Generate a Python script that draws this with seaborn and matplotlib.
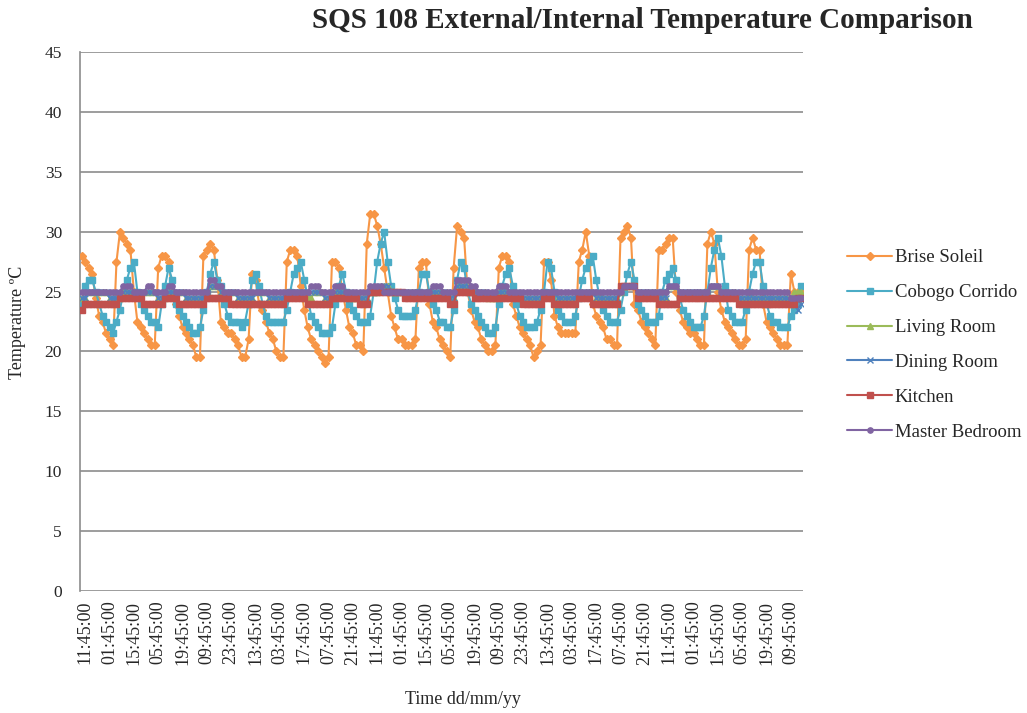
import numpy as np
import pandas as pd
import matplotlib
matplotlib.use("Agg")
import matplotlib.pyplot as plt
import seaborn as sns

# Logged readings, one every 2 hours; the first reading is at 09:45:00
tick_labels = [
    "11:45:00", "01:45:00", "15:45:00", "05:45:00", "19:45:00", "09:45:00",
    "23:45:00", "13:45:00", "03:45:00", "17:45:00", "07:45:00", "21:45:00",
    "11:45:00", "01:45:00", "15:45:00", "05:45:00", "19:45:00", "09:45:00",
    "23:45:00", "13:45:00", "03:45:00", "17:45:00", "07:45:00", "21:45:00",
    "11:45:00", "01:45:00", "15:45:00", "05:45:00", "19:45:00", "09:45:00",
]

brise_soleil = [
    28, 27.5, 27, 26.5, 24.5, 23, 22.5, 21.5, 21, 20.5,
    27.5, 30, 29.5, 29, 28.5, 25, 22.5, 22, 21.5, 21, 20.5, 20.5,
    27, 28, 28, 27.5, 25, 24, 23, 22, 21.5, 21, 20.5, 19.5, 19.5,
    28, 28.5, 29, 28.5, 26, 22.5, 22, 21.5, 21.5, 21, 20.5, 19.5, 19.5, 21,
    26.5, 26, 24, 23.5, 22.5, 21.5, 21, 20, 19.5, 19.5,
    27.5, 28.5, 28.5, 28, 25.5, 23.5, 22, 21, 20.5, 20, 19.5, 19, 19.5,
    27.5, 27.5, 27, 25, 23.5, 22, 21.5, 20.5, 20.5, 20,
    29, 31.5, 31.5, 30.5, 29, 27, 25, 23, 22, 21, 21, 20.5, 20.5, 20.5, 21,
    27, 27.5, 27.5, 24, 22.5, 22, 21, 20.5, 20, 19.5,
    27, 30.5, 30, 29.5, 25, 23.5, 22.5, 22, 21, 20.5, 20, 20, 20.5,
    27, 28, 28, 27.5, 24, 23, 22, 21.5, 21, 20.5, 19.5, 20, 20.5,
    27.5, 27.5, 26, 23, 22, 21.5, 21.5, 21.5, 21.5, 21.5,
    27.5, 28.5, 30, 28, 24, 23, 22.5, 22, 21, 21, 20.5, 20.5,
    29.5, 30, 30.5, 29.5, 24, 23.5, 22.5, 22, 21.5, 21, 20.5,
    28.5, 28.5, 29, 29.5, 29.5, 25, 23.5, 22.5, 22, 21.5, 21.5, 21, 20.5, 20.5,
    29, 30, 29, 25, 23.5, 22.5, 22, 21.5, 21, 20.5, 20.5, 21,
    28.5, 29.5, 28.5, 28.5, 24, 22.5, 22, 21.5, 21, 20.5, 20.5, 20.5, 26.5, 25, 25, 25,
]

cobogo_corrido = [
    24, 25.5, 26, 26, 25, 24, 23, 22.5, 22, 21.5,
    22.5, 23.5, 25, 26, 27, 27.5, 25, 24, 23.5, 23, 22.5, 22.5, 22,
    24, 25.5, 27, 26, 24, 23.5, 23, 22.5, 22, 21.5, 21.5, 22,
    23.5, 25, 26.5, 27.5, 26, 25.5, 24, 23, 22.5, 22.5, 22.5, 22, 22.5,
    24, 26, 26.5, 25.5, 24, 23, 22.5, 22.5, 22.5, 22.5, 22.5,
    23.5, 25, 26.5, 27, 27.5, 26, 24.5, 23, 22.5, 22, 21.5, 21.5, 21.5, 22,
    24, 25.5, 26.5, 25, 24, 23.5, 23, 22.5, 22.5, 22.5,
    23, 25, 27.5, 29, 30, 27.5, 25.5, 24.5, 23.5, 23, 23, 23, 23, 23.5,
    25, 26.5, 26.5, 25, 24, 23.5, 22.5, 22.5, 22, 22,
    23.5, 26, 27.5, 27, 25, 24, 23.5, 23, 22.5, 22, 21.5, 21.5, 22,
    24, 25.5, 26.5, 27, 25.5, 24, 23, 22.5, 22, 22, 22, 22.5, 23.5,
    25, 27.5, 27, 25, 23.5, 23, 22.5, 22.5, 22.5, 23,
    24.5, 26, 27, 27.5, 28, 26, 24.5, 23.5, 23, 22.5, 22.5, 22.5,
    23.5, 25, 26.5, 27.5, 26, 24, 23.5, 23, 22.5, 22.5, 22.5, 23,
    25, 26, 26.5, 27, 26, 24.5, 23.5, 23, 22.5, 22, 22, 22, 23,
    25, 27, 28.5, 29.5, 28, 25.5, 23.5, 23, 22.5, 22.5, 22.5, 23.5,
    25, 26.5, 27.5, 27.5, 25.5, 24, 23, 22.5, 22.5, 22, 22, 22, 23, 23.5, 24, 25.5,
]

living_room = [
    24.5, 24.5, 25, 25, 25, 25, 25, 25, 24.5, 24.5, 24.5, 24.5, 25, 25, 25, 25,
    25, 25, 25, 25, 25, 25, 24.5, 24.5, 24.5, 25, 25, 25, 25, 25, 24.5, 24.5,
    24.5, 24.5, 24.5, 24.5, 25, 25.5, 25.5, 25.5, 25, 25, 25, 25, 25, 24.5, 24.5, 24.5,
    24.5, 24.5, 25, 25, 25, 25, 24.5, 24.5, 24.5, 24.5, 24.5, 25, 25, 25, 25, 25,
    24.5, 24.5, 24.5, 25, 25, 25, 24.5, 24.5, 24.5, 25, 25, 25, 25, 25, 24.5, 24.5,
    24.5, 24.5, 24.5, 25, 25, 25, 25.5, 25.5, 25.5, 25, 25, 25, 25, 25, 25, 25,
    25, 25, 25, 25, 25, 25, 25, 25, 25, 25, 24.5, 24.5, 25.5, 25.5, 25.5, 25.5,
    25, 25, 25, 25, 25, 24.5, 24.5, 24.5, 25, 25, 25, 25, 25, 25, 24.5, 24.5,
    24.5, 24.5, 24.5, 24.5, 24.5, 25, 25, 25, 25, 24.5, 24.5, 24.5, 24.5, 24.5, 24.5, 25,
    25, 25, 25, 25, 24.5, 24.5, 24.5, 24.5, 24.5, 24.5, 24.5, 25, 25.5, 25.5, 25.5, 25.5,
    25, 25, 25, 25, 25, 25, 24.5, 24.5, 24.5, 25.5, 25.5, 25.5, 25, 25, 25, 25,
    25, 25, 25, 25, 25, 25.5, 25.5, 25.5, 25, 25, 25, 25, 25, 24.5, 24.5, 24.5,
    24.5, 24.5, 24.5, 24.5, 24.5, 24.5, 24.5, 24.5, 24.5, 24.5, 24.5, 24.5, 24, 25, 25, 25,
]

dining_room = [
    24.5, 24.5, 25, 25, 25, 25, 25, 25, 24.5, 24.5, 24.5, 24.5, 25, 25, 25, 25,
    25, 25, 25, 25, 25, 25, 24.5, 24.5, 24.5, 25, 25, 25, 25, 25, 24.5, 24.5,
    24.5, 24.5, 24.5, 24.5, 25, 25.5, 25.5, 25.5, 25, 25, 25, 25, 25, 24.5, 24.5, 24.5,
    24.5, 24.5, 25, 25, 25, 25, 24.5, 24.5, 24.5, 24.5, 24.5, 25, 25, 25, 25, 25,
    25, 25, 25, 25, 25, 25, 24.5, 24.5, 24.5, 25, 25, 25, 25, 25, 24.5, 24.5,
    24.5, 24.5, 24.5, 25, 25, 25, 25.5, 25.5, 25.5, 25, 25, 25, 25, 25, 25, 25,
    25, 25, 25, 25, 25, 25, 25, 25, 25, 25, 24.5, 24.5, 25.5, 25.5, 25.5, 25.5,
    25, 25, 25, 25, 25, 24.5, 24.5, 24.5, 25, 25, 25, 25, 25, 25, 24.5, 24.5,
    24.5, 24.5, 24.5, 24.5, 24.5, 25, 25, 25, 25, 24.5, 24.5, 24.5, 24.5, 24.5, 24.5, 25,
    25, 25, 25, 25, 24.5, 24.5, 24.5, 24.5, 24.5, 24.5, 24.5, 25, 25.5, 25.5, 25.5, 25.5,
    25, 25, 25, 25, 25, 25, 24.5, 24.5, 24.5, 25.5, 25.5, 25.5, 25, 25, 25, 25,
    25, 25, 25, 25, 25, 25.5, 25.5, 25.5, 25, 25, 25, 25, 25, 24.5, 24.5, 24.5,
    24.5, 24.5, 24.5, 24.5, 24.5, 24.5, 24.5, 24.5, 24.5, 24.5, 24.5, 24.5, 24, 24, 23.5, 24,
]

kitchen = [
    23.5, 24, 24, 24, 24, 24, 24, 24, 24, 24, 24, 24.5, 24.5, 24.5, 24.5, 24.5,
    24.5, 24.5, 24, 24, 24, 24, 24, 24, 24.5, 24.5, 24.5, 24.5, 24, 24, 24, 24,
    24, 24, 24, 24, 24.5, 24.5, 24.5, 24.5, 24.5, 24.5, 24.5, 24, 24, 24, 24, 24,
    24, 24, 24, 24, 24, 24, 24, 24, 24, 24, 24, 24.5, 24.5, 24.5, 24.5, 24.5,
    24.5, 24, 24, 24, 24, 24, 24, 24, 24.5, 24.5, 24.5, 24.5, 24.5, 24.5, 24.5, 24.5,
    24, 24, 24, 25, 25, 25, 25, 25, 25, 25, 25, 25, 25, 24.5, 24.5, 24.5,
    24.5, 24.5, 24.5, 24.5, 24.5, 24.5, 24.5, 24.5, 24.5, 24.5, 24, 24, 25, 25, 25, 25,
    25, 24.5, 24.5, 24.5, 24.5, 24.5, 24.5, 24.5, 24.5, 24.5, 24.5, 24.5, 24.5, 24.5, 24.5, 24,
    24, 24, 24, 24, 24, 24.5, 24.5, 24.5, 24, 24, 24, 24, 24, 24, 24, 24.5,
    24.5, 24.5, 24.5, 24, 24, 24, 24, 24, 24, 24, 24, 25.5, 25.5, 25.5, 25.5, 25.5,
    24.5, 24.5, 24.5, 24.5, 24.5, 24.5, 24, 24, 24, 24, 24, 24, 24.5, 24.5, 24.5, 24.5,
    24.5, 24.5, 24.5, 24.5, 24.5, 24.5, 24.5, 24.5, 24.5, 24.5, 24.5, 24.5, 24.5, 24, 24, 24,
    24, 24, 24, 24, 24, 24, 24, 24, 24, 24, 24, 24, 24, 24, 24.5, 24.5,
]

master_bedroom = [
    25, 25, 25, 25, 25, 25, 25, 25, 25, 25, 25, 25, 25.5, 25.5, 25.5, 25,
    25, 25, 25, 25.5, 25.5, 25, 25, 25, 25, 25.5, 25.5, 25, 25, 25, 25, 25,
    25, 25, 25, 25, 25, 26, 26, 25.5, 25.5, 25, 25, 25, 25, 25, 25, 25,
    25, 25, 25, 25, 25, 25, 25, 25, 25, 25, 25, 25, 25, 25, 25, 25,
    25, 25, 25.5, 25.5, 25.5, 25, 25, 25, 25, 25.5, 25.5, 25.5, 25, 25, 25, 25,
    25, 25, 25, 25.5, 25.5, 25.5, 25.5, 25, 25, 25, 25, 25, 25, 25, 25, 25,
    25, 25, 25, 25, 25, 25.5, 25.5, 25.5, 25, 25, 25, 25, 26, 26, 26, 26,
    25.5, 25.5, 25, 25, 25, 25, 25, 25, 25.5, 25.5, 25.5, 25, 25, 25, 25, 25,
    25, 25, 25, 25, 25, 25, 25, 25, 25, 25, 25, 25, 25, 25, 25, 25,
    25, 25, 25, 25, 25, 25, 25, 25, 25, 25, 25, 25, 25.5, 25.5, 25.5, 25.5,
    25, 25, 25, 25, 25, 25, 25, 25, 25, 25.5, 25.5, 25.5, 25, 25, 25, 25,
    25, 25, 25, 25, 25, 25.5, 25.5, 25.5, 25, 25, 25, 25, 25, 25, 25, 25,
    25, 25, 25, 25, 25, 25, 25, 25, 25, 25, 25, 25, 24.5, 24.5, 24.5, 24.5,
]

series = {
    "Brise Soleil": brise_soleil,
    "Cobogo Corrido": cobogo_corrido,
    "Living Room": living_room,
    "Dining Room": dining_room,
    "Kitchen": kitchen,
    "Master Bedroom": master_bedroom,
}
colors = ["#F79646", "#4BACC6", "#9BBB59", "#4F81BD", "#C0504D", "#8064A2"]
markers = ["D", "s", "^", "x", "s", "o"]
marker_sizes = [3.6, 3.8, 4.0, 4.0, 4.0, 3.8]

sns.set_style("white")
plt.rcParams["font.family"] = ["Liberation Serif", "DejaVu Serif"]

n = len(brise_soleil)
frame = pd.DataFrame({"reading": np.arange(n)})
for name, values in series.items():
    frame[name] = values
long = frame.melt(id_vars="reading", var_name="location", value_name="temperature")

fig = plt.figure(figsize=(10.27, 7.13), dpi=100)
ax = fig.add_axes([80 / 1027, 1 - 591 / 713, 723 / 1027, 539 / 713])

grid_grey = "#8C8C8C"
for k, name in enumerate(series):
    sub = long[long["location"] == name]
    sns.lineplot(
        data=sub, x="reading", y="temperature", ax=ax,
        color=colors[k], linewidth=1.5, marker=markers[k],
        markersize=marker_sizes[k], markeredgewidth=1.0,
        markeredgecolor=colors[k], label=name, zorder=3 + k,
        estimator=None, errorbar=None,
    )

ax.set_ylim(0, 45)
ax.set_yticks(np.arange(0, 46, 5))
ax.set_xlim(-0.5, n - 0.5)
ax.set_xticks(np.arange(1, 1 + 7 * len(tick_labels), 7))
ax.set_xticklabels(tick_labels, rotation=90, fontsize=13)
ax.tick_params(axis="y", labelsize=12.5, length=5, color=grid_grey, width=1, pad=8)
ax.tick_params(axis="x", length=0, pad=7)
ax.yaxis.grid(True, color=grid_grey, linewidth=1.2)
ax.set_axisbelow(True)
for side in ["top", "right", "bottom"]:
    ax.spines[side].set_visible(False)
ax.spines["left"].set_color(grid_grey)
ax.spines["left"].set_linewidth(1.2)
ax.set_xlabel("")
ax.set_ylabel("")

fig.text(18 / 1027, 1 - 322 / 713, "Temperature ºC", rotation=90,
         ha="center", va="center", fontsize=13)
fig.text(463 / 1027, 1 - 700 / 713, "Time dd/mm/yy", ha="center",
         va="center", fontsize=13)
fig.text(642 / 1027, 1 - 21 / 713, "SQS 108 External/Internal Temperature Comparison",
         ha="center", va="center", fontsize=21, fontweight="bold")

handles, labels = ax.get_legend_handles_labels()
ax.get_legend().remove()
fig.legend(handles, labels, loc="center left",
           bbox_to_anchor=(847 / 1027, 1 - 345 / 713), frameon=False,
           fontsize=13.5, handlelength=2.4, handletextpad=0.15,
           labelspacing=0.95, borderpad=0, borderaxespad=0)

fig.savefig("out.png", dpi=100, facecolor="white")
